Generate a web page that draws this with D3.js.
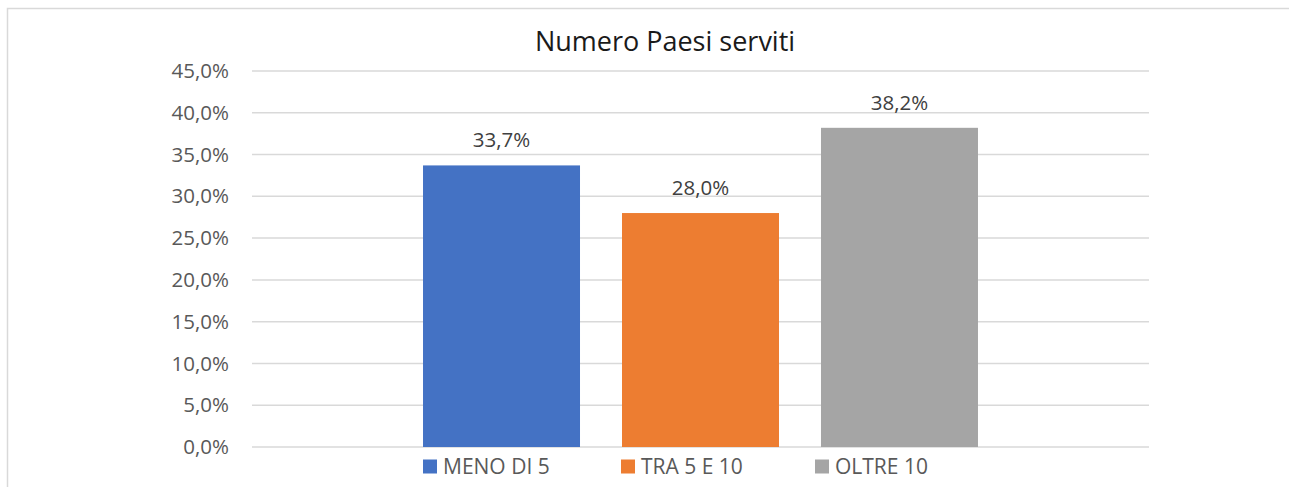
<!DOCTYPE html>
<html>
<head>
<meta charset="utf-8">
<script src="https://cdn.jsdelivr.net/npm/d3@7"></script>
<style>
  html, body { margin: 0; padding: 0; background: #fff; }
  svg text { font-family: "Open Sans", "Noto Sans", sans-serif; }
</style>
</head>
<body>
<div id="chart"></div>
<script>
const title = 'Numero Paesi serviti';
const category = ['Paesi'];
const seriesNames = ['MENO DI 5', 'TRA 5 E 10', 'OLTRE 10'];
const seriesValues = [33.7, 28.0, 38.2];
const seriesColors = ['#4472c4', '#ed7d31', '#a5a5a5'];
const yTicks = [0, 5, 10, 15, 20, 25, 30, 35, 40, 45];

const W = 1289, H = 487;
const margin = {top: 71, right: 140, bottom: 40, left: 252},
      width = 1149 - margin.left,
      height = 447 - margin.top;

const itLocale = d3.formatLocale({decimal: ',', thousands: '.', grouping: [3], currency: ['€', '']});
const fmt = itLocale.format('.1f');

const svg = d3.select('#chart').append('svg')
    .attr('width', W).attr('height', H);

// chart border
svg.append('rect')
    .attr('x', 7.5).attr('y', 8.5)
    .attr('width', W + 40).attr('height', H + 40)
    .attr('fill', 'none')
    .attr('stroke', '#d9d9d9')
    .attr('stroke-width', 1.5);

svg.append('text')
    .attr('x', 665).attr('y', 51)
    .attr('text-anchor', 'middle')
    .style('font-size', '27px')
    .style('fill', '#1a1a1a')
    .text(title);

const g = svg.append('g')
    .attr('transform', 'translate(' + margin.left + ',' + margin.top + ')');

const y = d3.scaleLinear().domain([0, 45]).range([height, 0]);

const x0 = d3.scaleBand().domain(category).range([0, width]).paddingOuter(0.2513);
const x1 = d3.scaleBand().domain(seriesNames).range([0, x0.bandwidth()])
    .paddingInner(42 / 199).paddingOuter(21 / 199);

// gridlines
g.selectAll('.grid')
    .data(yTicks)
    .enter().append('line')
    .attr('x1', 0).attr('x2', width)
    .attr('y1', d => y(d)).attr('y2', d => y(d))
    .attr('stroke', '#d9d9d9')
    .attr('stroke-width', 1.5);

// y axis labels
const yAxis = g.append('g')
    .call(d3.axisLeft(y).tickValues(yTicks).tickSize(0).tickPadding(23)
        .tickFormat(d => fmt(d) + '%'));
yAxis.select('.domain').remove();
yAxis.selectAll('text')
    .style('font-size', '20.5px')
    .style('fill', '#595959')
    .style('font-family', '"Open Sans", "Noto Sans", sans-serif');

const data = seriesNames.map((name, i) => ({name, value: seriesValues[i], color: seriesColors[i]}));

const catG = g.append('g').attr('transform', 'translate(' + x0(category[0]) + ',0)');

catG.selectAll('.bar')
    .data(data)
    .enter().append('rect')
    .attr('class', 'bar')
    .attr('x', d => x1(d.name))
    .attr('width', x1.bandwidth())
    .attr('y', d => y(d.value))
    .attr('height', d => height - y(d.value))
    .attr('fill', d => d.color);

catG.selectAll('.label')
    .data(data)
    .enter().append('text')
    .attr('x', d => x1(d.name) + x1.bandwidth() / 2)
    .attr('y', d => y(d.value) - 18)
    .attr('text-anchor', 'middle')
    .style('font-size', '20.5px')
    .style('fill', '#404040')
    .text(d => fmt(d.value) + '%');

// legend
const legendX = [423, 621, 815];
const legend = svg.append('g').attr('transform', 'translate(0,459.5)');
const item = legend.selectAll('.leg')
    .data(data)
    .enter().append('g')
    .attr('transform', (d, i) => 'translate(' + legendX[i] + ',0)');
item.append('rect')
    .attr('width', 14).attr('height', 14)
    .attr('fill', d => d.color);
item.append('text')
    .attr('x', 20).attr('y', 14)
    .style('font-size', '21px')
    .style('fill', '#595959')
    .text(d => d.name);
</script>
</body>
</html>
